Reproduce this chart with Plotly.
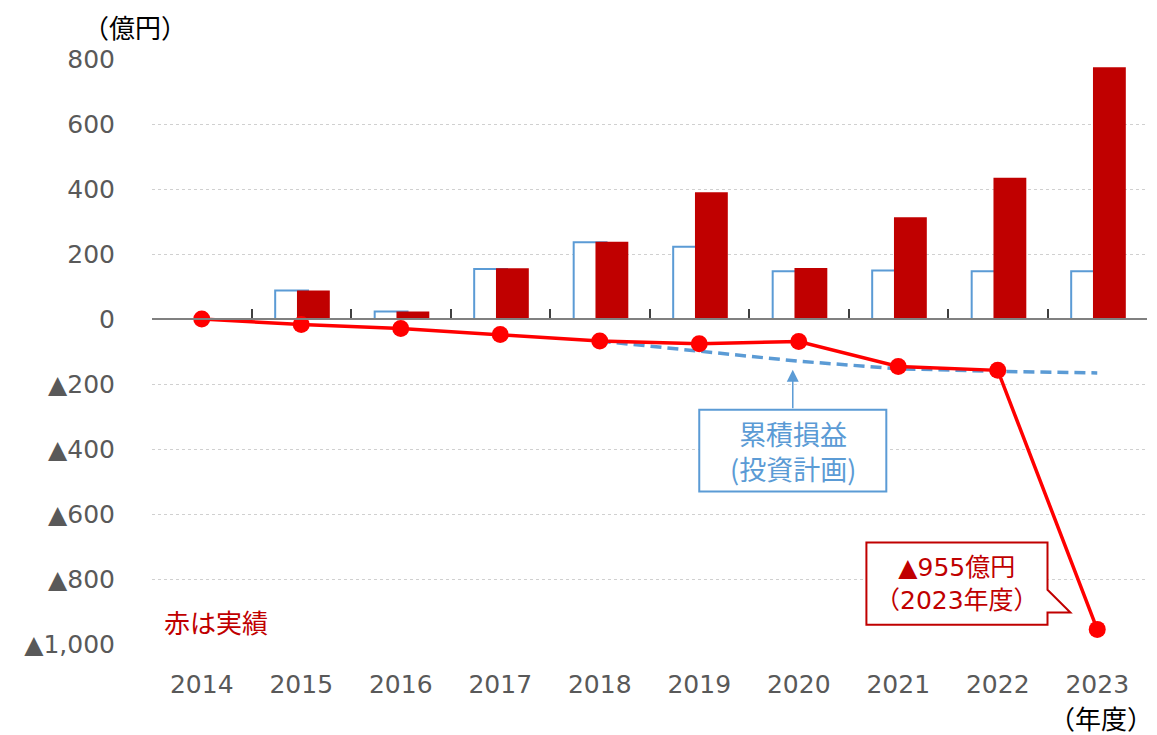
import plotly.graph_objects as go

years = ["2014", "2015", "2016", "2017", "2018", "2019", "2020", "2021", "2022", "2023"]
plan_profit = [0, 88, 23, 154, 236, 222, 147, 149, 147, 147]
actual_profit = [0, 88, 23, 156, 238, 390, 157, 313, 435, 775]
actual_cum = [0, -17, -29, -48, -68, -76, -69, -146, -158, -955]
plan_cum_years = ["2018", "2019", "2020", "2021", "2022", "2023"]
plan_cum = [-68, -100, -130, -153, -161, -166]
y_ticks = [-1000, -800, -600, -400, -200, 0, 200, 400, 600, 800]
y_ticktext = ["▲1,000", "▲800", "▲600", "▲400", "▲200", "0", "200", "400", "600", "800"]

BLUE = "#5B9BD5"
DARKRED = "#C00000"
RED = "#FF0000"
GRAY = "#595959"
FONT = "DejaVu Sans, Noto Sans CJK JP"
CJK = "Noto Sans CJK JP"

fig = go.Figure()
fig.add_trace(go.Bar(x=years, y=plan_profit, offset=-0.262, width=0.33,
                     marker=dict(color="white", line=dict(color=BLUE, width=2)),
                     showlegend=False))
fig.add_trace(go.Bar(x=years, y=actual_profit, offset=-0.043, width=0.33,
                     marker=dict(color=DARKRED, line=dict(width=0)),
                     showlegend=False))
fig.add_trace(go.Scatter(x=plan_cum_years, y=plan_cum, mode="lines",
                         line=dict(color=BLUE, width=3.5, dash="11px,6px"),
                         showlegend=False))
fig.add_trace(go.Scatter(x=years, y=actual_cum, mode="lines+markers",
                         line=dict(color=RED, width=3.5),
                         marker=dict(color=RED, size=17),
                         showlegend=False))
# invisible trace to carry the zero-line tick axis
fig.add_trace(go.Scatter(x=years, y=[0] * len(years), xaxis="x2", mode="lines",
                         line=dict(width=0), hoverinfo="skip", showlegend=False))

fig.update_layout(
    width=1157, height=735,
    margin=dict(l=144, r=18, t=51, b=99, autoexpand=False),
    paper_bgcolor="white", plot_bgcolor="white",
    barmode="overlay",
    font=dict(family=FONT, color=GRAY, size=26),
    xaxis=dict(type="category", range=[-0.5, 9.5], showgrid=False, showline=False,
               zeroline=False, ticks="", ticklabelstandoff=23, automargin=False,
               tickfont=dict(size=25, color=GRAY, family=FONT)),
    xaxis2=dict(type="category", range=[-0.5, 9.5], overlaying="x", anchor="free",
                position=(1000 / 1800), side="bottom", showticklabels=False,
                ticks="inside", tickson="boundaries", ticklen=9, tickcolor="#404040",
                tickwidth=1.5, showline=True, linecolor="#808080", linewidth=2,
                showgrid=False, zeroline=False, automargin=False),
    yaxis=dict(range=[-1000, 800], tickvals=y_ticks, ticktext=y_ticktext,
               showgrid=True, gridcolor="#D0D0D0", griddash="dot", gridwidth=1,
               zeroline=False, showline=False, ticks="", ticklabelstandoff=36,
               automargin=False,
               tickfont=dict(size=25, color=GRAY, family=FONT)),
)

# callout box for the 2023 loss
fig.add_shape(type="path", xref="x", yref="y",
              path="M 6.68,-688 L 8.5,-688 L 8.5,-833 L 8.73,-903 L 8.5,-903 L 8.5,-941 L 6.68,-941 Z",
              line=dict(color=DARKRED, width=2), fillcolor="white", layer="above")
fig.add_annotation(x=7.59, y=-815, xref="x", yref="y", showarrow=False,
                   text="▲955億円<br>（2023年度）",
                   font=dict(size=25, color=DARKRED, family=FONT), align="center")

# plan label box with arrow
fig.add_shape(type="rect", xref="x", yref="y", x0=5.0, x1=6.88, y0=-279, y1=-531,
              line=dict(color=BLUE, width=2), fillcolor="white", layer="above")
fig.add_annotation(x=5.94, y=-405, xref="x", yref="y", showarrow=False,
                   text="累積損益<br>(投資計画)",
                   font=dict(size=27, color=BLUE, family=CJK), align="center")
fig.add_annotation(x=5.94, y=-156, ax=5.94, ay=-279, xref="x", yref="y",
                   axref="x", ayref="y", text="", showarrow=True,
                   arrowhead=2, arrowsize=1.6, arrowwidth=1.5, arrowcolor=BLUE,
                   standoff=0, startstandoff=0)

fig.add_annotation(x=0.01, y=-930, xref="paper", yref="y", xanchor="left",
                   showarrow=False, text="赤は実績",
                   font=dict(size=26, color=DARKRED, family=CJK))
fig.add_annotation(x=-0.017, y=1.0, xref="paper", yref="paper", xanchor="center",
                   yanchor="bottom", yshift=12, showarrow=False, text="（億円）",
                   font=dict(size=26, color="black", family=CJK))
fig.add_annotation(x=1.0, y=0, xref="paper", yref="paper", xanchor="right",
                   yanchor="top", yshift=-53, xshift=8, showarrow=False, text="（年度）",
                   font=dict(size=26, color="black", family=CJK))

fig.write_html("out.html")
